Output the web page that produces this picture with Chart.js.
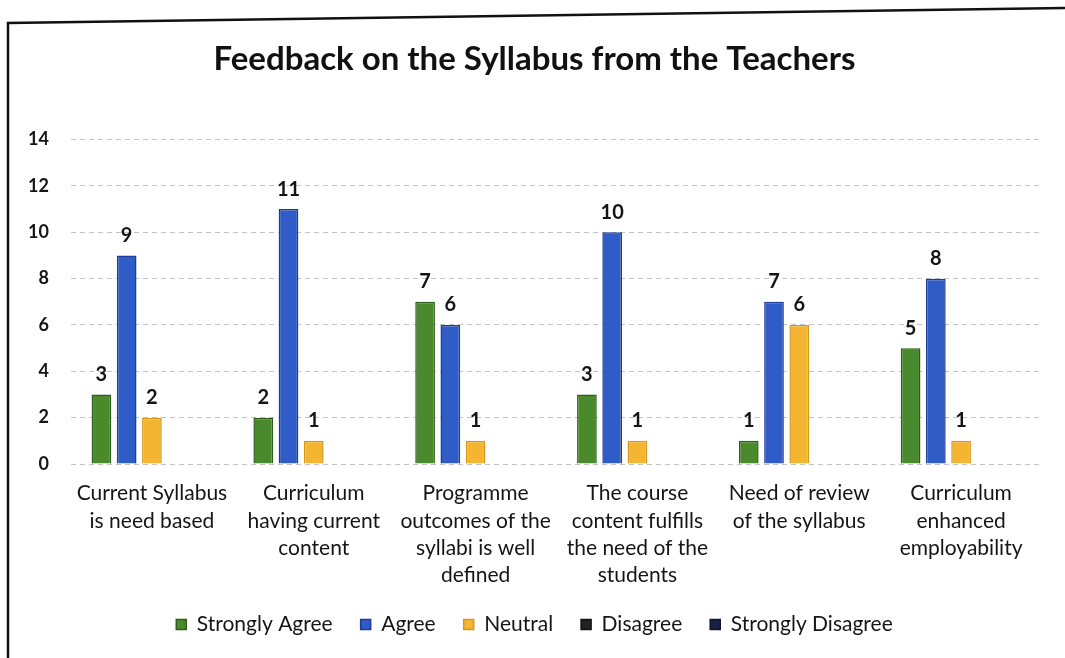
<!DOCTYPE html>
<html>
<head>
<meta charset="utf-8">
<script src="https://cdn.jsdelivr.net/npm/chart.js@4/dist/chart.umd.min.js"></script>
<style>
  html, body { margin: 0; padding: 0; background: #fff; }
  #wrap { width: 1065px; height: 658px; position: relative; }
</style>
</head>
<body>
<div id="wrap"><canvas id="feedbackChart"></canvas></div>
<script>
// chart data
const categories = [
  ["Current Syllabus", "is need based"],
  ["Curriculum", "having current", "content"],
  ["Programme", "outcomes of the", "syllabi is well", "defined"],
  ["The course", "content fulfills", "the need of the", "students"],
  ["Need of review", "of the syllabus"],
  ["Curriculum", "enhanced", "employability"]
];
const seriesNames = ["Strongly Agree", "Agree", "Neutral", "Disagree", "Strongly Disagree"];
const stronglyAgree = [3, 2, 7, 3, 1, 5];
const agree = [9, 11, 6, 10, 7, 8];
const neutral = [2, 1, 1, 1, 6, 1];
const disagree = [0, 0, 0, 0, 0, 0];
const stronglyDisagree = [0, 0, 0, 0, 0, 0];
const yTicks = [0, 2, 4, 6, 8, 10, 12, 14];

const fills = ["#4b8a2c", "#2f5cc6", "#f4b532", "#222222", "#1b2145"];
const edges = ["#2d5c18", "#1d3c96", "#d8961c", "#111111", "#0e1230"];
const FONT = "Lato, 'Open Sans', sans-serif";

// white page + the scanned frame on the left and top
const framePlugin = {
  id: "frame",
  beforeDraw(chart) {
    const ctx = chart.ctx;
    ctx.save();
    ctx.fillStyle = "#fff";
    ctx.fillRect(0, 0, chart.width, chart.height);
    ctx.strokeStyle = "#111";
    ctx.lineWidth = 2.5;
    ctx.beginPath();
    ctx.moveTo(8, chart.height);
    ctx.lineTo(8, 23);
    ctx.lineTo(chart.width, 8);
    ctx.stroke();
    ctx.restore();
  }
};

// value labels above the bars (zeros left blank)
const valueLabels = {
  id: "valueLabels",
  afterDatasetsDraw(chart) {
    const ctx = chart.ctx;
    ctx.save();
    ctx.font = "bold 20px " + FONT;
    ctx.fillStyle = "#151515";
    ctx.textAlign = "center";
    ctx.textBaseline = "bottom";
    chart.data.datasets.forEach((ds, i) => {
      const meta = chart.getDatasetMeta(i);
      meta.data.forEach((bar, j) => {
        const v = ds.data[j];
        if (!v) return;
        ctx.fillText(String(v), bar.x, bar.y - 10);
      });
    });
    ctx.restore();
  }
};

const seriesData = [stronglyAgree, agree, neutral, disagree, stronglyDisagree];

new Chart(document.getElementById("feedbackChart"), {
  type: "bar",
  data: {
    labels: categories,
    datasets: seriesNames.map((name, i) => ({
      label: name,
      data: seriesData[i],
      backgroundColor: fills[i],
      borderColor: edges[i],
      borderWidth: 1.5,
      categoryPercentage: 0.78,
      barPercentage: 0.78
    }))
  },
  options: {
    responsive: true,
    maintainAspectRatio: false,
    animation: false,
    layout: { padding: { left: 27, right: 23, top: 0, bottom: 13 } },
    plugins: {
      title: {
        display: true,
        text: "Feedback on the Syllabus from the Teachers",
        color: "#111",
        font: { family: FONT, size: 33, weight: "bold", lineHeight: 1.2 },
        padding: { top: 40, bottom: 60 }
      },
      legend: {
        position: "bottom",
        labels: {
          boxWidth: 10,
          boxHeight: 10,
          padding: 28,
          color: "#151515",
          font: { family: FONT, size: 21 }
        }
      },
      tooltip: { enabled: false }
    },
    scales: {
      x: {
        grid: { display: false, drawTicks: false },
        border: { display: false },
        ticks: {
          color: "#151515",
          padding: 16,
          maxRotation: 0,
          autoSkip: false,
          font: { family: FONT, size: 21, lineHeight: 1.3 }
        },
        afterFit(scale) { scale.height = 122; }
      },
      y: {
        min: 0,
        max: 14,
        afterBuildTicks(scale) { scale.ticks = yTicks.map(v => ({ value: v })); },
        grid: { color: "#c4c4c4", lineWidth: 1, drawTicks: false },
        border: { display: false, dash: [5, 4] },
        ticks: {
          color: "#151515",
          padding: 22,
          font: { family: FONT, size: 18, weight: "bold" }
        },
        afterFit(scale) { scale.width = 44; }
      }
    }
  },
  plugins: [framePlugin, valueLabels]
});
</script>
</body>
</html>
